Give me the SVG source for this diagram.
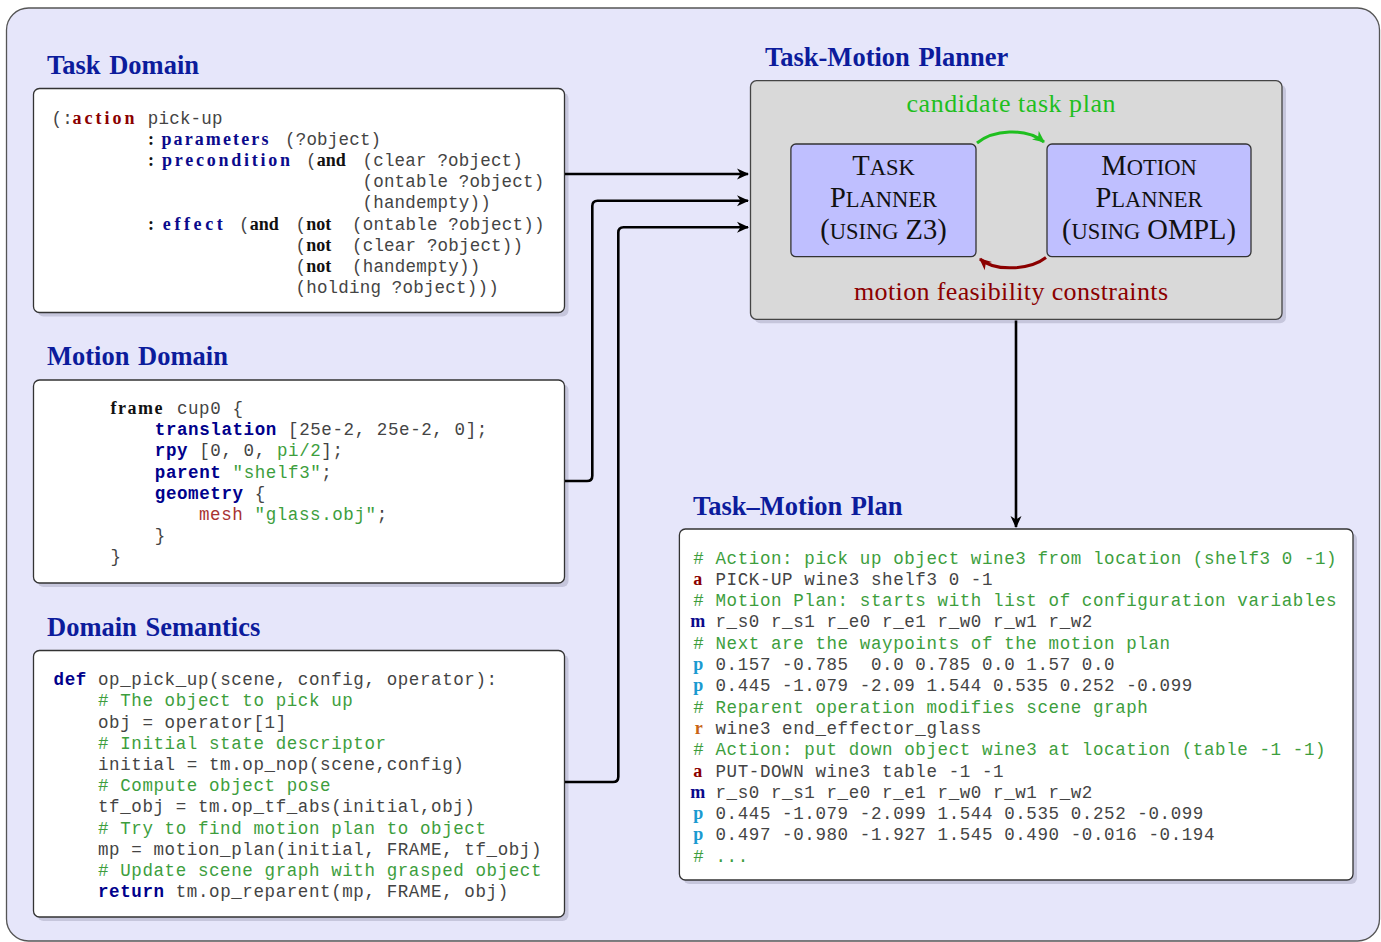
<svg xmlns="http://www.w3.org/2000/svg" width="1381" height="942" viewBox="0 0 1381 942">
<style>
.frame{fill:#e6e6fa;stroke:#555;stroke-width:1.3}
.box{fill:#fff;stroke:#333;stroke-width:1.3}
.shadow{fill:#c6c6dc}
.gray{fill:#d9d9d9;stroke:#444;stroke-width:1.3}
.sub{fill:#bfbfff;stroke:#333;stroke-width:1.3}
.h{font-family:"Liberation Serif","DejaVu Serif",serif;font-weight:bold;font-size:26.5px;word-spacing:2px;fill:#0c1c9c}
.code{font-family:"Liberation Mono","DejaVu Sans Mono",monospace;font-size:17.5px;fill:#444;letter-spacing:0.6px;white-space:pre}
.t{letter-spacing:0.2px}
.kb{font-weight:bold;fill:#00008b}
.cm{fill:#3d9e3d}
.mesh{fill:#a83232}
.sk{font-family:"Liberation Serif","DejaVu Serif",serif;font-weight:bold;font-size:18px;fill:#111}
.red{fill:#8b0000}
.blu{fill:#0a0a8c}
.cy{fill:#1a9ad0}
.or{fill:#c86414}
.cap{font-family:"Liberation Serif","DejaVu Serif",serif;fill:#111;text-anchor:middle}
.big{font-size:28.5px}
.sm{font-size:22.5px}
.lbl{font-family:"Liberation Serif","DejaVu Serif",serif;font-size:26px;text-anchor:middle}
.conn{fill:none;stroke:#000;stroke-width:2.6}
</style>
<defs>
<marker id="ah" markerUnits="userSpaceOnUse" markerWidth="14" markerHeight="12" refX="11" refY="6" orient="auto">
<path d="M0,0.5 L12,6 L0,11.5 L3.5,6 Z" fill="#000"/>
</marker>
<marker id="ahg" markerUnits="userSpaceOnUse" markerWidth="14" markerHeight="12" refX="11" refY="6" orient="auto">
<path d="M0,0.5 L12,6 L0,11.5 L3.5,6 Z" fill="#1fbf1f"/>
</marker>
<marker id="ahr" markerUnits="userSpaceOnUse" markerWidth="14" markerHeight="12" refX="11" refY="6" orient="auto">
<path d="M0,0.5 L12,6 L0,11.5 L3.5,6 Z" fill="#8b0000"/>
</marker>
</defs>

<rect class="frame" x="6.5" y="8" width="1373" height="933" rx="22"/>

<g id="task-domain">
<text class="h" x="47" y="74">Task Domain</text>
<rect class="shadow" x="37.5" y="92.5" width="531" height="224" rx="6"/>
<rect class="box" x="33.5" y="88.5" width="531" height="224" rx="6"/>
<text class="code t" y="123.5"><tspan x="51.5">(:</tspan><tspan x="147.8">pick-up</tspan></text>
<text class="sk red" x="72.4" y="123.5" textLength="62" lengthAdjust="spacing">action</text>
<text class="sk" x="148" y="144.7">:</text>
<text class="sk blu" x="161.4" y="144.7" textLength="107" lengthAdjust="spacing">parameters</text>
<text class="code t" y="144.7"><tspan x="285">(?object)</tspan></text>
<text class="sk" x="148" y="165.9">:</text>
<text class="sk blu" x="162" y="165.9" textLength="128" lengthAdjust="spacing">precondition</text>
<text class="code t" y="165.9"><tspan x="306">(</tspan><tspan x="362.5">(clear ?object)</tspan></text>
<text class="sk" x="316.8" y="165.9">and</text>
<text class="code t" x="362.5" y="187.1">(ontable ?object)</text>
<text class="code t" x="362.5" y="208.3">(handempty))</text>
<text class="sk" x="148" y="229.5">:</text>
<text class="sk blu" x="162.8" y="229.5" textLength="60" lengthAdjust="spacing">effect</text>
<text class="code t" y="229.5"><tspan x="239">(</tspan><tspan x="295.5">(</tspan><tspan x="352">(ontable ?object))</tspan></text>
<text class="sk" x="249.7" y="229.5">and</text>
<text class="sk" x="306.3" y="229.5">not</text>
<text class="code t" y="250.7"><tspan x="295.5">(</tspan><tspan x="352">(clear ?object))</tspan></text>
<text class="sk" x="306.3" y="250.7">not</text>
<text class="code t" y="271.9"><tspan x="295.5">(</tspan><tspan x="352">(handempty))</tspan></text>
<text class="sk" x="306.3" y="271.9">not</text>
<text class="code t" x="295.5" y="293.1">(holding ?object)))</text>
</g>

<g id="motion-domain">
<text class="h" x="47" y="365">Motion Domain</text>
<rect class="shadow" x="37.5" y="384" width="531" height="203" rx="6"/>
<rect class="box" x="33.5" y="380" width="531" height="203" rx="6"/>
<text class="sk" x="110.6" y="414.3" textLength="52" lengthAdjust="spacing">frame</text>
<text class="code" x="176.9" y="414.3">cup0 {</text>
<text class="code" x="154.8" y="435.4"><tspan class="kb">translation</tspan> [25e-2, 25e-2, 0];</text>
<text class="code" x="154.8" y="456.4"><tspan class="kb">rpy</tspan> [0, 0, <tspan class="cm">pi/2</tspan>];</text>
<text class="code" x="154.8" y="477.5"><tspan class="kb">parent</tspan> <tspan class="cm">"shelf3"</tspan>;</text>
<text class="code" x="154.8" y="498.5"><tspan class="kb">geometry</tspan> {</text>
<text class="code" x="199" y="519.6"><tspan class="mesh">mesh</tspan> <tspan class="cm">"glass.obj"</tspan>;</text>
<text class="code" x="154.8" y="540.6">}</text>
<text class="code" x="110.6" y="561.7">}</text>
</g>

<g id="domain-semantics">
<text class="h" x="47" y="636">Domain Semantics</text>
<rect class="shadow" x="37.5" y="654.5" width="531" height="266.5" rx="6"/>
<rect class="box" x="33.5" y="650.5" width="531" height="266.5" rx="6"/>
<text class="code" x="53.6" y="685"><tspan class="kb">def</tspan> op_pick_up(scene, config, operator):</text>
<text class="code cm" x="98" y="706.2"># The object to pick up</text>
<text class="code" x="98" y="727.5">obj = operator[1]</text>
<text class="code cm" x="98" y="748.7"># Initial state descriptor</text>
<text class="code" x="98" y="769.9">initial = tm.op_nop(scene,config)</text>
<text class="code cm" x="98" y="791.2"># Compute object pose</text>
<text class="code" x="98" y="812.4">tf_obj = tm.op_tf_abs(initial,obj)</text>
<text class="code cm" x="98" y="833.6"># Try to find motion plan to object</text>
<text class="code" x="98" y="854.8">mp = motion_plan(initial, FRAME, tf_obj)</text>
<text class="code cm" x="98" y="876.1"># Update scene graph with grasped object</text>
<text class="code" x="98" y="897.3"><tspan class="kb">return</tspan> tm.op_reparent(mp, FRAME, obj)</text>
</g>

<g id="task-motion-planner">
<text class="h" x="765" y="66">Task-Motion Planner</text>
<rect class="shadow" x="754.5" y="84.7" width="531.5" height="238.6" rx="6"/>
<rect class="gray" x="750.5" y="80.7" width="531.5" height="238.6" rx="6"/>
<text class="lbl" x="1011" y="112" fill="#1fbf1f" textLength="209" lengthAdjust="spacing">candidate task plan</text>
<text class="lbl" x="1011" y="300" fill="#8b0000" textLength="314" lengthAdjust="spacing">motion feasibility constraints</text>
</g>

<g id="task-planner">
<rect class="sub" x="790.9" y="144" width="185.1" height="112.7" rx="5"/>
<text class="cap" x="883.5" y="175"><tspan class="big">T</tspan><tspan class="sm">ASK</tspan></text>
<text class="cap" x="883.5" y="207"><tspan class="big">P</tspan><tspan class="sm">LANNER</tspan></text>
<text class="cap" x="883.5" y="239"><tspan class="big">(</tspan><tspan class="sm">USING</tspan><tspan class="big"> Z3)</tspan></text>
</g>

<g id="motion-planner">
<rect class="sub" x="1047" y="144" width="204" height="112.7" rx="5"/>
<text class="cap" x="1149" y="175"><tspan class="big">M</tspan><tspan class="sm">OTION</tspan></text>
<text class="cap" x="1149" y="207"><tspan class="big">P</tspan><tspan class="sm">LANNER</tspan></text>
<text class="cap" x="1149" y="239"><tspan class="big">(</tspan><tspan class="sm">USING</tspan><tspan class="big"> OMPL)</tspan></text>
</g>

<g id="task-motion-plan">
<text class="h" x="693" y="515">Task–Motion Plan</text>
<rect class="shadow" x="683.4" y="533" width="673.6" height="351" rx="6"/>
<rect class="box" x="679.4" y="529" width="673.6" height="351" rx="6"/>
<text class="code cm" x="693.3" y="563.5"># Action: pick up object wine3 from location (shelf3 0 -1)</text>
<text class="sk red" x="693.3" y="584.8">a</text><text class="code" x="715.5" y="584.8">PICK-UP wine3 shelf3 0 -1</text>
<text class="code cm" x="693.3" y="606.1"># Motion Plan: starts with list of configuration variables</text>
<text class="sk blu" x="690.3" y="627.4">m</text><text class="code" x="715.5" y="627.4">r_s0 r_s1 r_e0 r_e1 r_w0 r_w1 r_w2</text>
<text class="code cm" x="693.3" y="648.7"># Next are the waypoints of the motion plan</text>
<text class="sk cy" x="693.3" y="670">p</text><text class="code" x="715.5" y="670">0.157 -0.785  0.0 0.785 0.0 1.57 0.0</text>
<text class="sk cy" x="693.3" y="691.3">p</text><text class="code" x="715.5" y="691.3">0.445 -1.079 -2.09 1.544 0.535 0.252 -0.099</text>
<text class="code cm" x="693.3" y="712.6"># Reparent operation modifies scene graph</text>
<text class="sk or" x="694.7" y="733.9">r</text><text class="code" x="715.5" y="733.9">wine3 end_effector_glass</text>
<text class="code cm" x="693.3" y="755.2"># Action: put down object wine3 at location (table -1 -1)</text>
<text class="sk red" x="693.3" y="776.5">a</text><text class="code" x="715.5" y="776.5">PUT-DOWN wine3 table -1 -1</text>
<text class="sk blu" x="690.3" y="797.8">m</text><text class="code" x="715.5" y="797.8">r_s0 r_s1 r_e0 r_e1 r_w0 r_w1 r_w2</text>
<text class="sk cy" x="693.3" y="819.1">p</text><text class="code" x="715.5" y="819.1">0.445 -1.079 -2.099 1.544 0.535 0.252 -0.099</text>
<text class="sk cy" x="693.3" y="840.4">p</text><text class="code" x="715.5" y="840.4">0.497 -0.980 -1.927 1.545 0.490 -0.016 -0.194</text>
<text class="code cm" x="693.3" y="861.7"># ...</text>
</g>

<g id="connectors">
<path class="conn" d="M565,174 H748" marker-end="url(#ah)"/>
<path class="conn" d="M565,481 H587 Q592.3,481 592.3,475.7 V206 Q592.3,200.7 597.6,200.7 H748" marker-end="url(#ah)"/>
<path class="conn" d="M565,782 H613 Q618.3,782 618.3,776.7 V232.6 Q618.3,227.3 623.6,227.3 H748" marker-end="url(#ah)"/>
<path class="conn" d="M1016,320.5 V527" marker-end="url(#ah)"/>
<path d="M977,143 C993,130 1025,127 1044,142" fill="none" stroke="#1fbf1f" stroke-width="3" marker-end="url(#ahg)"/>
<path d="M1046,257.5 C1030,270 995,272 980,259" fill="none" stroke="#8b0000" stroke-width="3" marker-end="url(#ahr)"/>
</g>
</svg>
